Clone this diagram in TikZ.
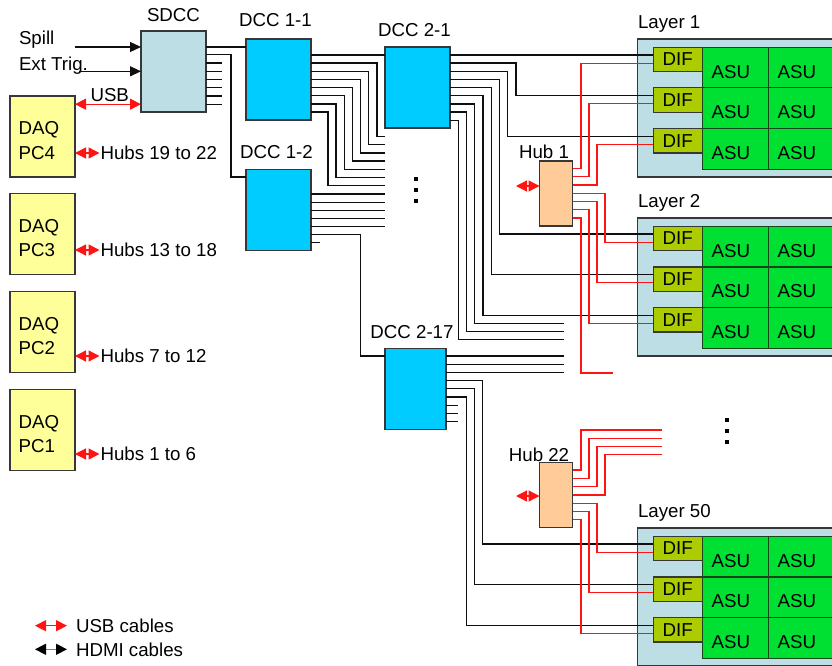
\documentclass[tikz,border=0pt]{standalone}
\usepackage{fontspec}
\setmainfont{Liberation Sans}
\usetikzlibrary{arrows.meta}
\definecolor{sdccC}{RGB}{189,222,228}
\definecolor{dccC}{RGB}{0,204,255}
\definecolor{daqC}{RGB}{255,255,153}
\definecolor{hubC}{RGB}{255,204,153}
\definecolor{difC}{RGB}{170,204,0}
\definecolor{asuC}{RGB}{0,224,51}
\definecolor{edgeC}{RGB}{55,55,55}
\definecolor{asuedge}{RGB}{25,70,25}
\definecolor{wireC}{RGB}{15,15,15}
\definecolor{redC}{RGB}{255,20,20}
\begin{document}
\begin{tikzpicture}[x=1pt,y=-1pt,
  txt/.style={font=\fontsize{18.7}{24.3}\selectfont, inner sep=0pt, outer sep=0pt},
  box/.style={draw=edgeC, line width=1.2pt, inner sep=0pt, outer sep=0pt, anchor=north west},
  daqbox/.style={box, fill=daqC, minimum width=65pt, minimum height=81pt},
  sdccbox/.style={box, fill=sdccC, minimum width=65pt, minimum height=81pt},
  dccbox/.style={box, fill=dccC, minimum width=65pt, minimum height=81pt},
  hubbox/.style={box, fill=hubC, minimum width=33pt, minimum height=65pt},
  layerbox/.style={box, fill=sdccC, minimum width=230pt, minimum height=138pt},
  difbox/.style={box, fill=difC, minimum width=49pt, minimum height=24.4pt, font=\fontsize{18.7}{22}\selectfont},
  asubox/.style={box, draw=asuedge, fill=asuC, minimum width=66pt, minimum height=40.6pt},
  wire/.style={draw=wireC, line width=1.3pt},
  rwire/.style={draw=redC, line width=1.3pt},
  harrow/.style={wire, -{Triangle[length=11pt,width=10pt]}},
  uarrow/.style={rwire, {Triangle[length=11pt,width=11pt]}-{Triangle[length=11pt,width=11pt]}},
  hdmiarrow/.style={draw=gray, line width=1.3pt, {Triangle[length=11pt,width=11pt,black]}-{Triangle[length=11pt,width=11pt,black]}},
  dotsq/.style={fill=black, minimum size=4.5pt, inner sep=0pt},
]
\useasboundingbox (0,0) rectangle (832,666);
\clip (0,0) rectangle (832,666);

% ---------- DAQ PCs ----------
\foreach \pcn/\ty in {4/96, 3/193.5, 2/291.5, 1/389.5}{
  \node[daqbox] (daq\pcn) at (10,\ty) {};
  \node[txt, align=left, anchor=north west] (daqlbl\pcn) at (18.6,\ty+25.7) {DAQ\\PC\pcn};
}

% ---------- SDCC, DCCs, Hubs ----------
\node[sdccbox] (sdcc) at (141,31) {};
\node[txt, anchor=base] (lsdcc) at (173.5,21.7) {SDCC};
\node[dccbox] (dcc11) at (246,39) {};
\node[txt, anchor=base] (ldcc11) at (275.5,26.6) {DCC 1-1};
\node[dccbox] (dcc12) at (246,169.5) {};
\node[txt, anchor=base] (ldcc12) at (276.5,158.3) {DCC 1-2};
\node[dccbox] (dcc21) at (385,47) {};
\node[txt, anchor=base] (ldcc21) at (414.5,36.7) {DCC 2-1};
\node[dccbox, minimum width=61pt] (dcc217) at (385,348.5) {};
\node[txt, anchor=base] (ldcc217) at (412,338.3) {DCC 2-17};
\node[hubbox] (hub1) at (539.5,161) {};
\node[txt, anchor=base] (lhub1) at (544,158.3) {Hub 1};
\node[hubbox] (hub22) at (539.5,462.3) {};
\node[txt, anchor=base] (lhub22) at (539,461) {Hub 22};

% ---------- Layers ----------
\foreach \n/\lab/\o in {a/Layer 1/0, b/Layer 2/179, c/Layer 50/489}{
  \node[layerbox] (layer\n) at (637.3,39+\o) {};
  \node[txt, anchor=base west] (lab\n) at (638,28.7+\o) {\lab};
  \foreach \r in {1,2,3}{
    \node[difbox] (dif\n\r) at (653.3,47.3+\o+40.6*\r-40.6) {DIF};
    \node[asubox] (asu\n\r1) at (702.3,47.3+\o+40.6*\r-40.6) {};
    \node[asubox] (asu\n\r2) at (768.3,47.3+\o+40.6*\r-40.6) {};
    \node[txt] (asut\n\r1) at ([xshift=-4.5pt,yshift=-4pt]asu\n\r1.center) {ASU};
    \node[txt] (asut\n\r2) at ([xshift=-4.5pt,yshift=-4pt]asu\n\r2.center) {ASU};
  }
}

% ---------- inputs of SDCC ----------
\coordinate (spillin) at (75,47);
\coordinate (trigin) at (79,71.3);
\node[txt, anchor=base west] (lspill) at (19,45) {Spill};
\node[txt, anchor=base west] (ltrig) at (19,70.5) {Ext Trig.};
\node[txt, anchor=base west] (lusb) at (90.5,101.7) {USB};
\draw[harrow] (spillin) -- (sdcc.west |- spillin);
\draw[harrow] (trigin) -- (sdcc.west |- trigin);
\draw[uarrow] (daq4.east |- 0,104.2) -- (sdcc.west |- 0,104.2);

% ---------- hubs per PC ----------
\foreach \pcn/\ay/\by/\hl in {4/153/159.3/Hubs 19 to 22, 3/250/256.6/Hubs 13 to 18, 2/356/362.6/Hubs 7 to 12, 1/454/460.6/Hubs 1 to 6}{
  \coordinate (hubend\pcn) at (99.5,\ay);
  \draw[uarrow] (daq\pcn.east |- hubend\pcn) -- (hubend\pcn);
  \node[txt, anchor=base west] (hubl\pcn) at (100.5,\by) {\hl};
}

% ---------- SDCC outputs ----------
\draw[wire] (sdcc.east |- 0,47) -- (dcc11.west |- 0,47);
\draw[wire] (sdcc.east |- 0,54.5) -| (231,177) -- (dcc12.west |- 0,177);
\foreach \y in {63,71.3,79.5,87.8,96,104.2} \draw[wire] (sdcc.east |- 0,\y) -- (222,\y);

% ---------- DCC 1-1 outputs ----------
\draw[wire] (dcc11.east |- 0,55) -- (dcc21.west |- 0,55);
\foreach \i in {1,...,7}{
  \pgfmathsetmacro{\ya}{55+8.15*\i}
  \pgfmathsetmacro{\xa}{385-8.15*\i}
  \pgfmathsetmacro{\yb}{128.5+8.15*\i}
  \draw[wire] (dcc11.east |- 0,\ya) -| (\xa,\yb) -- (385,\yb);
}

% ---------- DCC 1-2 outputs ----------
\foreach \y in {194,202.2,210.3,218.5,226.6} \draw[wire] (dcc12.east |- 0,\y) -- (385,\y);
\draw[wire] (dcc12.east |- 0,234.5) -| (360.7,356) -- (dcc217.west |- 0,356);
\draw[wire] (dcc12.east |- 0,242.5) -- (320,242.5);

% ---------- DCC 2-1 outputs ----------
\draw[wire] (dcc21.east |- 0,55) -- (difa1.west |- 0,55);
\draw[wire] (dcc21.east |- 0,63.15) -| (516,95.6) -- (difa2.west |- 0,95.6);
\draw[wire] (dcc21.east |- 0,71.3) -| (507.8,136.2) -- (difa3.west |- 0,136.2);
\draw[wire] (dcc21.east |- 0,79.45) -| (499.5,234) -- (difb1.west |- 0,234);
\draw[wire] (dcc21.east |- 0,87.6) -| (491.2,274.6) -- (difb2.west |- 0,274.6);
\draw[wire] (dcc21.east |- 0,95.75) -| (483,315.2) -- (difb3.west |- 0,315.2);
\draw[wire] (dcc21.east |- 0,103.9) -| (474.7,323.3) -- (564,323.3);
\draw[wire] (dcc21.east |- 0,112.05) -| (466.5,331.5) -- (564,331.5);
\draw[wire] (dcc21.east |- 0,120.2) -| (458.2,339.7) -- (564,339.7);

% ---------- DCC 2-17 outputs ----------
\foreach \y in {356,364.2,372.4} \draw[wire] (dcc217.east |- 0,\y) -- (564,\y);
\draw[wire] (dcc217.east |- 0,380.6) -| (482.7,544) -- (difc1.west |- 0,544);
\draw[wire] (dcc217.east |- 0,388.8) -| (474.5,584.6) -- (difc2.west |- 0,584.6);
\draw[wire] (dcc217.east |- 0,397) -| (466.3,625.2) -- (difc3.west |- 0,625.2);
\foreach \y in {405.2,413.4,421.6} \draw[wire] (dcc217.east |- 0,\y) -- (458.3,\y);

% ---------- Hub 1 outputs ----------
\draw[rwire] (hub1.east |- 0,168.3) -| (581,63.2) -- (difa1.west |- 0,63.2);
\draw[rwire] (hub1.east |- 0,176.6) -| (589,103.8) -- (difa2.west |- 0,103.8);
\draw[rwire] (hub1.east |- 0,184.9) -| (597,144.4) -- (difa3.west |- 0,144.4);
\draw[rwire] (hub1.east |- 0,193.2) -| (605,242.2) -- (difb1.west |- 0,242.2);
\draw[rwire] (hub1.east |- 0,201.5) -| (597,282.8) -- (difb2.west |- 0,282.8);
\draw[rwire] (hub1.east |- 0,209.8) -| (589,323.4) -- (difb3.west |- 0,323.4);
\draw[rwire] (hub1.east |- 0,218.1) -| (581,373) -- (613,373);

% ---------- Hub 22 outputs ----------
\draw[rwire] (hub22.east |- 0,470) -| (581,430) -- (662,430);
\draw[rwire] (hub22.east |- 0,478.3) -| (589,438.2) -- (662,438.2);
\draw[rwire] (hub22.east |- 0,486.6) -| (597,446.3) -- (662,446.3);
\draw[rwire] (hub22.east |- 0,494.9) -| (605,454.4) -- (662,454.4);
\draw[rwire] (hub22.east |- 0,503.2) -| (597,552.2) -- (difc1.west |- 0,552.2);
\draw[rwire] (hub22.east |- 0,511.5) -| (589,592.8) -- (difc2.west |- 0,592.8);
\draw[rwire] (hub22.east |- 0,519.8) -| (581,633.4) -- (difc3.west |- 0,633.4);

% ---------- hub USB arrows ----------
\coordinate (h1in) at (516,186);
\coordinate (h22in) at (516,496);
\draw[uarrow] (h1in) -- (hub1.west |- h1in);
\draw[uarrow] (h22in) -- (hub22.west |- h22in);

% ---------- dots ----------
\foreach \yy/\m in {179/1,190/2,201/3} \node[dotsq] (dota\m) at (416,\yy) {};
\foreach \yy/\m in {420/1,431/2,442/3} \node[dotsq] (dotb\m) at (727,\yy) {};

% ---------- legend ----------
\coordinate (lga) at (35,625.7);
\coordinate (lgb) at (67,625.7);
\coordinate (lgc) at (35,649.3);
\coordinate (lgd) at (67,649.3);
\draw[uarrow] (lga) -- (lgb);
\draw[hdmiarrow] (lgc) -- (lgd);
\node[txt, anchor=base west] (lgusb) at (76,632.7) {USB cables};
\node[txt, anchor=base west] (lghdmi) at (76,656.7) {HDMI cables};
\end{tikzpicture}
\end{document}
